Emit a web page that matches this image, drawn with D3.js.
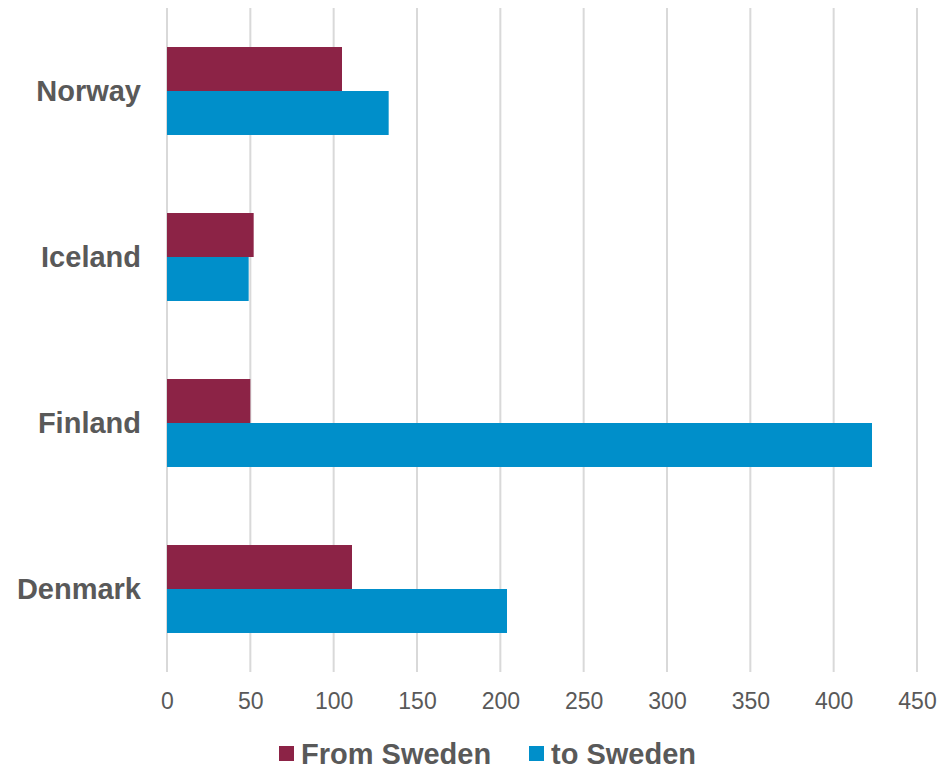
<!DOCTYPE html>
<html>
<head>
<meta charset="utf-8">
<script src="https://cdn.jsdelivr.net/npm/d3@7"></script>
<style>
  html, body { margin: 0; padding: 0; background: #fff; }
  svg { display: block; font-family: "Liberation Sans", Arial, sans-serif; }
</style>
</head>
<body>
<svg id="chart" width="951" height="771"></svg>
<script>
// Nordic countries, top to bottom
const countries = ["Norway", "Iceland", "Finland", "Denmark"];
const seriesNames = ["From Sweden", "to Sweden"];
const fromSweden = [105, 52, 50, 111];
const toSweden = [133, 49, 423, 204];
const xTicks = [0, 50, 100, 150, 200, 250, 300, 350, 400, 450];
const colors = ["#8C2346", "#008FCA"];

const svg = d3.select("#chart");
const plotLeft = 167, plotRight = 917, plotTop = 8, plotBottom = 672;

const x = d3.scaleLinear().domain([0, 450]).range([plotLeft, plotRight]);
const y = d3.scaleBand().domain(countries).range([plotTop, plotBottom])
  .paddingInner(0.47).paddingOuter(0.235);
const ySub = d3.scaleBand().domain(seriesNames).range([0, y.bandwidth()]);

// vertical gridlines
svg.append("g").selectAll("line").data(xTicks).join("line")
  .attr("x1", d => x(d)).attr("x2", d => x(d))
  .attr("y1", plotTop).attr("y2", plotBottom)
  .attr("stroke", "#D9D9D9").attr("stroke-width", 2);

// bars
const rows = countries.map((c, i) => ({ c, vals: [fromSweden[i], toSweden[i]] }));
const groups = svg.append("g").selectAll("g").data(rows).join("g")
  .attr("transform", d => `translate(0,${y(d.c)})`);
groups.selectAll("rect").data(d => d.vals.map((v, j) => ({ v, s: seriesNames[j], j })))
  .join("rect")
  .attr("x", x(0))
  .attr("y", d => ySub(d.s))
  .attr("width", d => x(d.v) - x(0))
  .attr("height", ySub.bandwidth())
  .attr("fill", d => colors[d.j]);

// x-axis tick labels
const xAxis = d3.axisBottom(x).tickValues(xTicks).tickSize(0).tickPadding(0);
const gx = svg.append("g").attr("transform", `translate(0,${plotBottom})`).call(xAxis);
gx.select(".domain").remove();
gx.selectAll("text")
  .attr("y", 37)
  .attr("dy", 0)
  .attr("font-family", "Liberation Sans, Arial, sans-serif")
  .attr("font-size", 23)
  .attr("fill", "#595959");

// category labels
const yAxis = d3.axisLeft(y).tickSize(0).tickPadding(0);
const gy = svg.append("g").attr("transform", `translate(141,0)`).call(yAxis);
gy.select(".domain").remove();
gy.selectAll("text")
  .attr("x", 0)
  .attr("dy", "0.36em")
  .attr("font-family", "Liberation Sans, Arial, sans-serif")
  .attr("font-size", 29)
  .attr("font-weight", "bold")
  .attr("fill", "#595959");

// legend
const legendItems = [
  { name: seriesNames[0], color: colors[0], x: 279 },
  { name: seriesNames[1], color: colors[1], x: 529 }
];
const lg = svg.append("g").selectAll("g").data(legendItems).join("g")
  .attr("transform", d => `translate(${d.x},746)`);
lg.append("rect").attr("width", 15).attr("height", 15).attr("fill", d => d.color);
lg.append("text")
  .attr("x", 22).attr("y", 7.5).attr("dy", "0.36em")
  .attr("font-size", 29).attr("font-weight", "bold").attr("fill", "#595959")
  .text(d => d.name);
</script>
</body>
</html>
